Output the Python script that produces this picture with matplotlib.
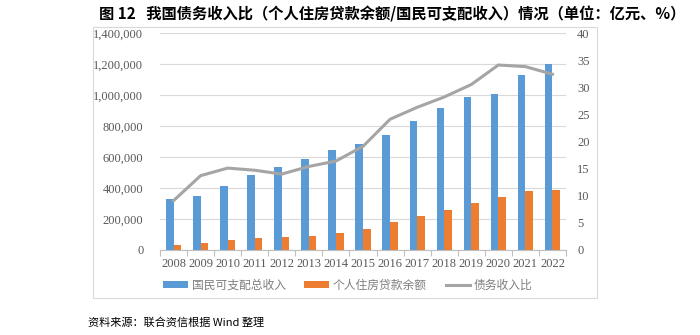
import matplotlib
matplotlib.use("Agg")
import matplotlib.pyplot as plt
from matplotlib.patches import Rectangle
from matplotlib.ticker import FuncFormatter, MultipleLocator
import numpy as np

plt.rcParams['font.family'] = ['Liberation Serif', 'Noto Sans CJK SC', 'DejaVu Sans']

years = ['2008', '2009', '2010', '2011', '2012', '2013', '2014', '2015',
         '2016', '2017', '2018', '2019', '2020', '2021', '2022']
disposable_income = [327000, 351000, 416000, 487000, 538000, 588000, 646000, 687000,
                     743000, 831000, 913000, 989000, 1008000, 1132000, 1199000]
housing_loans = [33000, 48000, 62000, 75000, 81000, 90000, 108000, 135000,
                 183000, 218000, 258000, 301000, 342000, 383000, 387000]
debt_ratio = [9.1, 13.7, 15.1, 14.7, 14.0, 15.4, 16.4, 19.1,
              24.1, 26.3, 28.2, 30.5, 34.1, 33.8, 32.4]

label_income = '国民可支配总收入'
label_loans = '个人住房贷款余额'
label_ratio = '债务收入比'
title = '图 12   我国债务收入比（个人住房贷款余额/国民可支配收入）情况（单位：亿元、%）'
source = '资料来源：联合资信根据 Wind 整理'

blue = '#5B9BD5'
orange = '#ED7D31'
gray = '#A5A5A5'
text_gray = '#595959'
legend_gray = '#7f7f7f'
cjk = ['Noto Sans CJK SC', 'DejaVu Sans']

fig = plt.figure(figsize=(7, 3.35), dpi=100)

# outer chart frame
fig.patches.append(Rectangle((93 / 700, 1 - 298 / 335), 504 / 700, 271 / 335,
                             transform=fig.transFigure, fill=False,
                             edgecolor='#d9d9d9', linewidth=0.8))

ax = fig.add_axes([160 / 700, 1 - 250 / 335, 406 / 700, 217 / 335])
x = np.arange(len(years))
w = 0.28
b1 = ax.bar(x - w / 2, disposable_income, width=w, color=blue, label=label_income, zorder=2)
b2 = ax.bar(x + w / 2, housing_loans, width=w, color=orange, label=label_loans, zorder=2)

ax.set_xlim(-0.5, len(years) - 0.5)
ax.set_ylim(0, 1400000)
ax.yaxis.set_major_locator(MultipleLocator(200000))
ax.yaxis.set_major_formatter(FuncFormatter(lambda v, p: f'{int(v):,}'))
ax.grid(axis='y', color='#d9d9d9', linewidth=0.8, zorder=0)
ax.set_axisbelow(True)
for s in ['left', 'right', 'top']:
    ax.spines[s].set_visible(False)
ax.spines['bottom'].set_color('#bfbfbf')
ax.spines['bottom'].set_linewidth(0.8)
ax.set_xticks(x)
ax.set_xticklabels(years)
ax.set_xticks(np.arange(-0.5, len(years), 1), minor=True)
ax.tick_params(axis='x', which='major', length=0, pad=6, labelsize=9, labelcolor=text_gray)
ax.tick_params(axis='x', which='minor', length=4, color='#bfbfbf', width=0.8)
ax.tick_params(axis='y', length=0, pad=12, labelsize=9, labelcolor=text_gray)

ax2 = ax.twinx()
ln, = ax2.plot(x, debt_ratio, color=gray, linewidth=2.2, label=label_ratio, zorder=3)
ax2.set_ylim(0, 40)
ax2.yaxis.set_major_locator(MultipleLocator(5))
for s in ['left', 'right', 'top', 'bottom']:
    ax2.spines[s].set_visible(False)
ax2.tick_params(axis='y', length=0, pad=8, labelsize=9, labelcolor=text_gray)

leg = fig.legend(handles=[b1, b2, ln], loc='center', bbox_to_anchor=(348 / 700, 1 - 285 / 335),
                 ncol=3, frameon=False, prop={'family': cjk, 'size': 8.5},
                 handlelength=2.1, handleheight=0.5, columnspacing=1.6, handletextpad=0.3)
for t in leg.get_texts():
    t.set_color(legend_gray)

fig.text(392 / 700, 1 - 14 / 335, title, ha='center', va='center',
         fontsize=11, fontweight='bold', family=['Noto Sans CJK SC', 'DejaVu Sans'])
fig.text(88 / 700, 1 - 323 / 335, source, ha='left', va='center',
         fontsize=8, family=['Noto Sans CJK SC', 'DejaVu Sans'])

fig.savefig('out.png', dpi=100)
